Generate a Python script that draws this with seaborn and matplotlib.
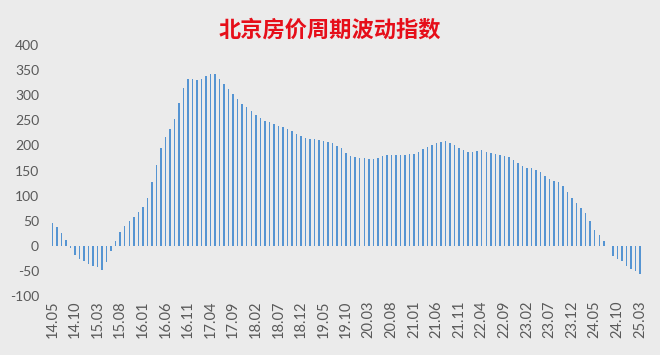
import matplotlib
matplotlib.use("Agg")
import matplotlib.pyplot as plt
import seaborn as sns
import pandas as pd

# 月份 2014.05 - 2025.03
months = pd.period_range("2014-05", "2025-03", freq="M").strftime("%y.%m").tolist()

index_values = [
    45, 37, 25, 12, -5, -18, -27, -30, -36, -41,
    -43, -48, -33, -11, 9, 27, 40, 49, 57, 67,
    77, 95, 127, 161, 195, 216, 232, 252, 284, 314,
    332, 332, 331, 332, 338, 343, 343, 333, 323, 312,
    302, 293, 283, 276, 269, 261, 254, 249, 246, 242,
    239, 236, 233, 228, 223, 218, 214, 213, 212, 210,
    209, 207, 204, 199, 194, 186, 179, 177, 176, 175,
    174, 174, 176, 179, 182, 182, 182, 182, 182, 183,
    184, 187, 192, 196, 200, 204, 207, 208, 204, 200,
    195, 191, 188, 188, 189, 191, 187, 186, 184, 182,
    180, 177, 172, 165, 159, 156, 155, 152, 147, 140,
    133, 129, 128, 119, 107, 95, 85, 75, 65, 50,
    32, 22, 9, -1, -20, -27, -31, -40, -46, -50,
    -56,
]

yticks = [-100, -50, 0, 50, 100, 150, 200, 250, 300, 350, 400]
title = "北京房价周期波动指数"

df = pd.DataFrame({"month": months, "value": index_values})

sns.set_style("white")
plt.rcParams["font.family"] = ["Lato", "Noto Sans CJK SC", "DejaVu Sans"]

bg = "#ebebeb"
fig = plt.figure(figsize=(6.6, 3.55), dpi=100, facecolor=bg)
ax = fig.add_axes([0.076, 0.166, 0.897, 0.707])
ax.set_facecolor(bg)

sns.barplot(data=df, x="month", y="value", order=months, color="#5594d2",
            width=0.33, saturation=1, linewidth=0, ax=ax)

ax.set_ylim(-100, 400)
ax.set_xlim(-0.5, len(months) - 0.5)
ax.set_yticks(yticks)
ax.set_yticklabels([str(v) for v in yticks], fontsize=10, color="#595959")
tick_pos = list(range(0, len(months), 5))
ax.set_xticks(tick_pos)
ax.set_xticklabels([months[i] for i in tick_pos], rotation=90, fontsize=10.5,
                   color="#595959")
ax.tick_params(axis="both", length=0, pad=3)
ax.tick_params(axis="y", pad=8)
ax.set_xlabel("")
ax.set_ylabel("")
for s in ax.spines.values():
    s.set_visible(False)

fig.text(0.5, 0.915, title, ha="center", va="center", fontsize=16,
         fontweight="bold", color="#e60e19", family=["Noto Sans CJK SC", "DejaVu Sans"])

fig.savefig("out.png", dpi=100, facecolor=bg)
